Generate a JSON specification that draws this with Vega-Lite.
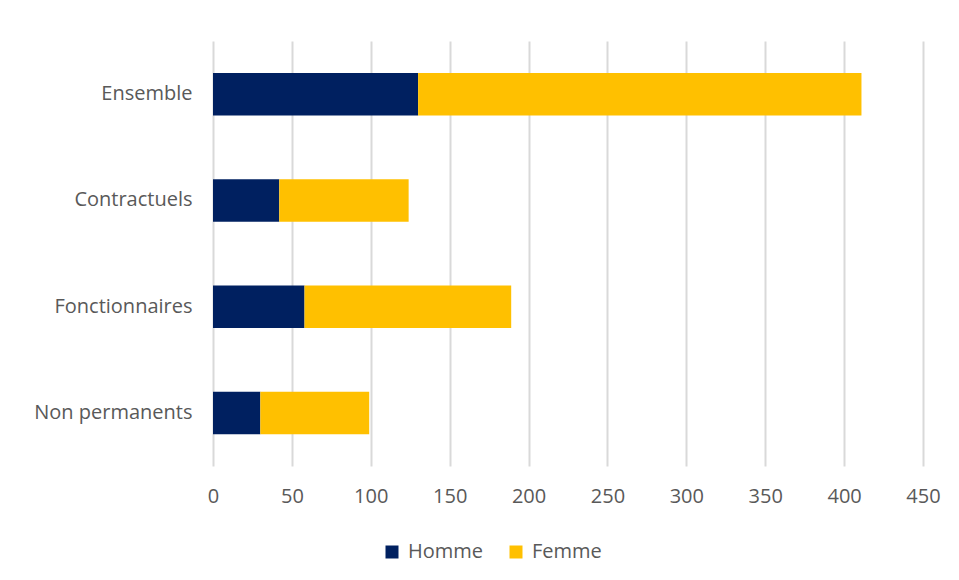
{
  "$schema": "https://vega.github.io/schema/vega-lite/v6.json",
  "width": 710,
  "height": 425,
  "autosize": {"type": "none"},
  "padding": {"left": 213, "top": 41, "right": 36, "bottom": 114},
  "background": "white",
  "data": {
    "values": [
      {"cat": "Ensemble", "sexe": "Homme", "o": 1, "v": 130},
      {"cat": "Ensemble", "sexe": "Femme", "o": 2, "v": 281},
      {"cat": "Contractuels", "sexe": "Homme", "o": 1, "v": 42},
      {"cat": "Contractuels", "sexe": "Femme", "o": 2, "v": 82},
      {"cat": "Fonctionnaires", "sexe": "Homme", "o": 1, "v": 58},
      {"cat": "Fonctionnaires", "sexe": "Femme", "o": 2, "v": 131},
      {"cat": "Non permanents", "sexe": "Homme", "o": 1, "v": 30},
      {"cat": "Non permanents", "sexe": "Femme", "o": 2, "v": 69}
    ]
  },
  "mark": {"type": "bar"},
  "encoding": {
    "y": {
      "field": "cat",
      "type": "nominal",
      "sort": ["Ensemble", "Contractuels", "Fonctionnaires", "Non permanents"],
      "scale": {"paddingInner": 0.6, "paddingOuter": 0.3},
      "axis": {
        "title": null,
        "ticks": false,
        "domain": false,
        "labelPadding": 21,
        "labelFontSize": 20,
        "labelFont": "Open Sans",
        "labelColor": "#595959"
      }
    },
    "x": {
      "field": "v",
      "type": "quantitative",
      "stack": "zero",
      "scale": {"domain": [0, 450], "nice": false},
      "axis": {
        "title": null,
        "values": [0, 50, 100, 150, 200, 250, 300, 350, 400, 450],
        "ticks": false,
        "domain": false,
        "grid": true,
        "gridColor": "#d9d9d9",
        "gridWidth": 2,
        "labelFlush": false,
        "labelPadding": 20,
        "labelFontSize": 20,
        "labelFont": "Open Sans",
        "labelColor": "#595959"
      }
    },
    "color": {
      "field": "sexe",
      "type": "nominal",
      "scale": {"domain": ["Homme", "Femme"], "range": ["#002060", "#FFC000"]},
      "legend": {
        "title": null,
        "orient": "none",
        "legendX": 169,
        "legendY": 501,
        "direction": "horizontal",
        "symbolType": "square",
        "symbolSize": 169,
        "symbolStrokeWidth": 0,
        "symbolOpacity": 1,
        "labelFontSize": 20,
        "labelFont": "Open Sans",
        "labelColor": "#595959",
        "labelOffset": 6,
        "columnPadding": 22
      }
    },
    "order": {"field": "o", "type": "quantitative"}
  },
  "config": {"view": {"stroke": null}}
}
